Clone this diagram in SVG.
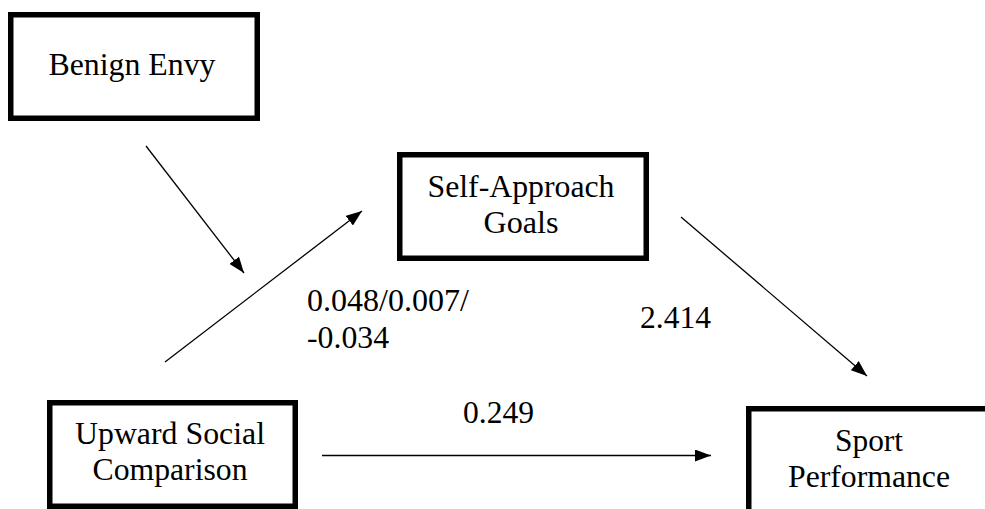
<svg xmlns="http://www.w3.org/2000/svg" width="985" height="509" viewBox="0 0 985 509">
<defs>
<style>
.box{fill:#fff;stroke:#000;stroke-width:5.5}
text{font-family:'Liberation Serif','Times New Roman',Tinos,'DejaVu Serif',serif;font-size:32px;fill:#000}
.c{text-anchor:middle}
.e{stroke:#000;stroke-width:1.3;fill:none;marker-end:url(#ah)}
</style>
<marker id="ah" markerUnits="userSpaceOnUse" markerWidth="16" markerHeight="12" refX="16" refY="6" orient="auto" viewBox="0 0 16 12">
<path d="M0,0 L16,6 L0,12 z" fill="#000"/>
</marker>
</defs>
<rect width="985" height="509" fill="#fff"/>
<g id="benign-envy">
<rect class="box" x="10.75" y="14.75" width="246.5" height="103.5"/>
<text class="c" x="132" y="75" textLength="167" lengthAdjust="spacingAndGlyphs">Benign Envy</text>
</g>
<g id="self-approach-goals">
<rect class="box" x="399.75" y="154.75" width="246.5" height="103.5"/>
<text class="c" x="521" y="197" textLength="187" lengthAdjust="spacingAndGlyphs">Self-Approach</text>
<text class="c" x="521" y="233" textLength="75" lengthAdjust="spacingAndGlyphs">Goals</text>
</g>
<g id="upward-social-comparison">
<rect class="box" x="49.75" y="402.75" width="245.5" height="103.5"/>
<text class="c" x="170" y="444" textLength="190" lengthAdjust="spacingAndGlyphs">Upward Social</text>
<text class="c" x="170" y="480" textLength="155" lengthAdjust="spacingAndGlyphs">Comparison</text>
</g>
<g id="sport-performance">
<rect class="box" x="748.75" y="408.75" width="260" height="120"/>
<text class="c" x="869" y="451" textLength="68" lengthAdjust="spacingAndGlyphs">Sport</text>
<text class="c" x="869" y="487" textLength="162" lengthAdjust="spacingAndGlyphs">Performance</text>
</g>
<g id="connectors">
<line class="e" x1="146" y1="146" x2="244" y2="273"/>
<line class="e" x1="165" y1="362" x2="362" y2="211"/>
<line class="e" x1="681" y1="217" x2="867" y2="376"/>
<line class="e" x1="322" y1="455.5" x2="711" y2="455.5"/>
</g>
<g id="labels">
<text x="307" y="311" textLength="162" lengthAdjust="spacingAndGlyphs">0.048/0.007/</text>
<text x="307" y="348" textLength="82" lengthAdjust="spacingAndGlyphs">-0.034</text>
<text x="640" y="328" textLength="71" lengthAdjust="spacingAndGlyphs">2.414</text>
<text x="463" y="423" textLength="71" lengthAdjust="spacingAndGlyphs">0.249</text>
</g>
</svg>
